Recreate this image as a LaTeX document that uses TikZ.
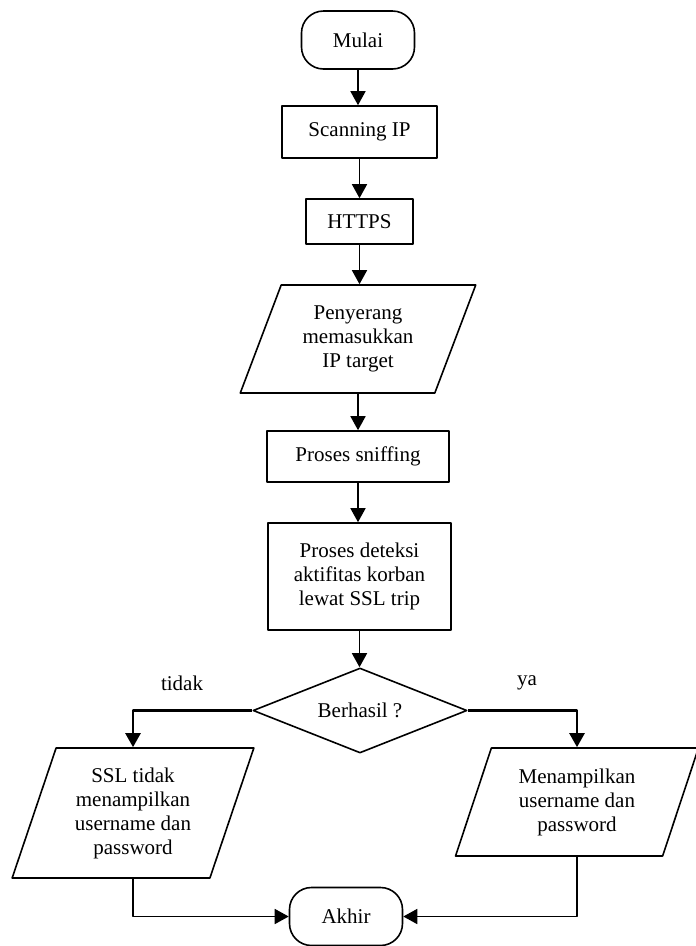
\documentclass[tikz,border=0pt]{standalone}
\usepackage{fontspec}
\setmainfont{Liberation Serif}
\usetikzlibrary{arrows.meta,shapes.geometric}

\begin{document}
\begin{tikzpicture}[x=1pt, y=1pt, line join=round, font=\fontsize{21}{24}\selectfont,
    >={Triangle[width=15pt,length=14pt]},
    terminal/.style={draw, line width=1.6pt, rounded corners=22pt, minimum width=113pt, minimum height=58pt},
    proses/.style={draw, line width=1.6pt, align=center, inner sep=0pt},
    ioput/.style={draw, line width=1.6pt, trapezium, trapezium stretches=true, trapezium left angle=#1, align=center, inner sep=0pt},
    keputusan/.style={draw, line width=1.6pt, diamond, aspect=2.5, inner sep=0pt, minimum width=214pt, minimum height=85pt},
    panah/.style={->, line width=1.6pt},
    cabang/.style={->, line width=2.4pt}]
    \useasboundingbox (0,0) rectangle (696,-946);

    % Alur utama
    \node[terminal] (mulai) at (358,-40) {Mulai};
    \node[proses, minimum width=155pt, minimum height=52pt] (scan) at (359.5,-132) {Scanning IP};
    \node[proses, minimum width=107pt, minimum height=45pt] (https) at (359.5,-221.5) {HTTPS};
    \node[ioput=66, trapezium right angle=114, minimum width=236pt, minimum height=108pt] (input) at (358,-339) {Penyerang\\memasukkan\\IP target};
    \node[proses, minimum width=182pt, minimum height=51pt] (sniff) at (358,-456.5) {Proses sniffing};
    \node[proses, minimum width=183pt, minimum height=107pt] (deteksi) at (359.5,-576.5) {Proses deteksi\\aktifitas korban\\lewat SSL trip};
    \node[keputusan] (cek) at (360,-710.5) {Berhasil ?};

    % Label cabang
    \node (tidak) at (182,-683) {tidak};
    \node (ya) at (527,-683) {ya};

    % Keluaran
    \node[ioput=70, trapezium right angle=110, minimum width=242pt, minimum height=130pt] (gagal) at (133,-813) {SSL tidak\\menampilkan\\username dan\\password};
    \node[ioput=70, trapezium right angle=110, minimum width=243pt, minimum height=108pt] (tampil) at (577,-802) {Menampilkan\\username dan\\password};
    \node[terminal] (akhir) at (346,-916.5) {Akhir};

    % Panah
    \draw[panah] (mulai.south) -- (mulai.south |- scan.north);
    \draw[panah] (scan.south) -- (scan.south |- https.north);
    \draw[panah] (https.south) -- (https.south |- input.north);
    \draw[panah] (input.south) -- (input.south |- sniff.north);
    \draw[panah] (sniff.south) -- (sniff.south |- deteksi.north);
    \draw[panah] (deteksi.south) -- (deteksi.south |- cek.north);
    \draw[cabang] (cek.west) -| (gagal.north);
    \draw[cabang] (cek.east) -| (tampil.north);
    \draw[panah] (gagal.south) |- (akhir.west);
    \draw[panah] (tampil.south) |- (akhir.east);
\end{tikzpicture}
\end{document}
